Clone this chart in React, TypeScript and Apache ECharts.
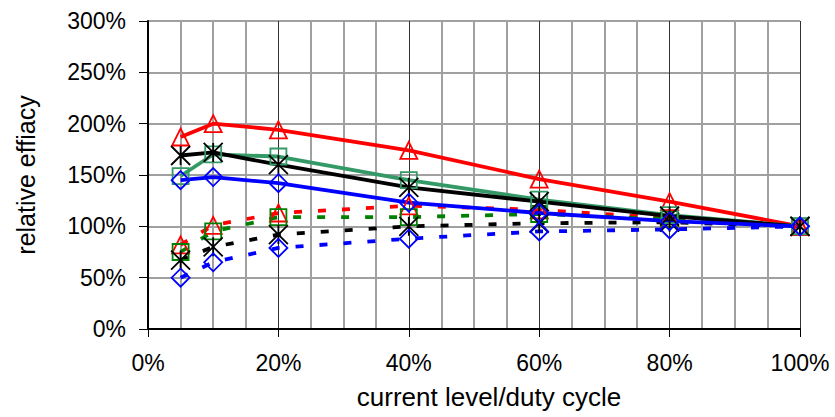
import React, { useEffect, useRef } from "react";
import * as echarts from "echarts";

const xLevels = [0.05, 0.1, 0.2, 0.4, 0.6, 0.8, 1.0];

const solidRed = [1.87, 2.0, 1.94, 1.74, 1.46, 1.24, 1.0];
const solidTeal = [1.49, 1.7, 1.68, 1.45, 1.26, 1.11, 1.0];
const solidBlack = [1.69, 1.72, 1.6, 1.38, 1.24, 1.1, 1.0];
const solidBlue = [1.45, 1.48, 1.42, 1.23, 1.13, 1.05, 1.0];

const dotRed = [0.82, 1.01, 1.13, 1.2, 1.16, 1.08, 1.0];
const dotGreen = [0.75, 0.95, 1.09, 1.09, 1.12, 1.07, 1.0];
const dotBlack = [0.67, 0.8, 0.92, 1.0, 1.03, 1.04, 1.0];
const dotBlue = [0.5, 0.65, 0.79, 0.88, 0.95, 0.97, 1.0];

const yAxisTitle = "relative effiacy";
const xAxisTitle = "current level/duty cycle";

const FONT = "'Liberation Sans', Arial, sans-serif";
const ASTERISK = "path://M0,0L20,20M20,0L0,20M10,0L10,20";

function pairs(vals: number[]) {
  return vals.map((v, i) => [xLevels[i], v]);
}

function makeSeries(
  vals: number[],
  color: string,
  symbol: string,
  symbolSize: number,
  dotted: boolean
) {
  return {
    type: "line",
    data: pairs(vals),
    symbol,
    symbolSize,
    silent: true,
    lineStyle: {
      color,
      width: 3.8,
      type: dotted ? [8, 16] : "solid",
    },
    itemStyle: {
      color: "rgba(0,0,0,0)",
      borderColor: color,
      borderWidth: 1.8,
    },
    emphasis: { disabled: true },
  };
}

export default function App() {
  const ref = useRef<HTMLDivElement>(null);
  useEffect(() => {
    if (!ref.current) return;
    const chart = echarts.init(ref.current, undefined, { renderer: "svg" });
    chart.setOption({
      animation: false,
      backgroundColor: "#ffffff",
      grid: { left: 148, right: 35, top: 21, bottom: 88 },
      xAxis: {
        type: "value",
        min: 0,
        max: 1,
        interval: 0.2,
        name: xAxisTitle,
        nameLocation: "middle",
        nameGap: 55,
        nameTextStyle: {
          fontFamily: FONT,
          fontSize: 26,
          color: "#000",
          padding: [0, 0, 0, 30],
        },
        axisLine: { show: true, lineStyle: { color: "#000", width: 2 } },
        axisTick: { show: true, length: 8, lineStyle: { color: "#000", width: 1 } },
        axisLabel: {
          margin: 22,
          fontFamily: FONT,
          fontSize: 23,
          color: "#000",
          formatter: (v: number) => Math.round(v * 100) + "%",
        },
        splitLine: { show: true, lineStyle: { color: "#333", width: 1 } },
        minorTick: { show: false, splitNumber: 4 },
        minorSplitLine: { show: true, lineStyle: { color: "#a0a0a0", width: 2 } },
      },
      yAxis: {
        type: "value",
        min: 0,
        max: 3,
        interval: 0.5,
        name: yAxisTitle,
        nameLocation: "middle",
        nameGap: 110,
        nameRotate: 90,
        nameTextStyle: { fontFamily: FONT, fontSize: 25, color: "#000" },
        axisLine: { show: true, lineStyle: { color: "#000", width: 2 } },
        axisTick: { show: true, length: 9, lineStyle: { color: "#000", width: 1 } },
        axisLabel: {
          margin: 22,
          fontFamily: FONT,
          fontSize: 23,
          color: "#000",
          formatter: (v: number) => Math.round(v * 100) + "%",
        },
        splitLine: { show: true, lineStyle: { color: "#a0a0a0", width: 2 } },
      },
      series: [
        makeSeries(dotRed, "#ff0000", "triangle", 17, true),
        makeSeries(dotGreen, "#008000", "rect", 16, true),
        makeSeries(dotBlack, "#000000", ASTERISK, 19, true),
        makeSeries(dotBlue, "#0000ff", "diamond", 18, true),
        makeSeries(solidRed, "#ff0000", "triangle", 17, false),
        makeSeries(solidTeal, "#339966", "rect", 16, false),
        makeSeries(solidBlack, "#000000", ASTERISK, 19, false),
        makeSeries(solidBlue, "#0000ff", "diamond", 18, false),
      ],
    });
    return () => chart.dispose();
  }, []);
  return (
    <div
      ref={ref}
      style={{ position: "absolute", left: 0, top: 0, width: 835, height: 417 }}
    />
  );
}
